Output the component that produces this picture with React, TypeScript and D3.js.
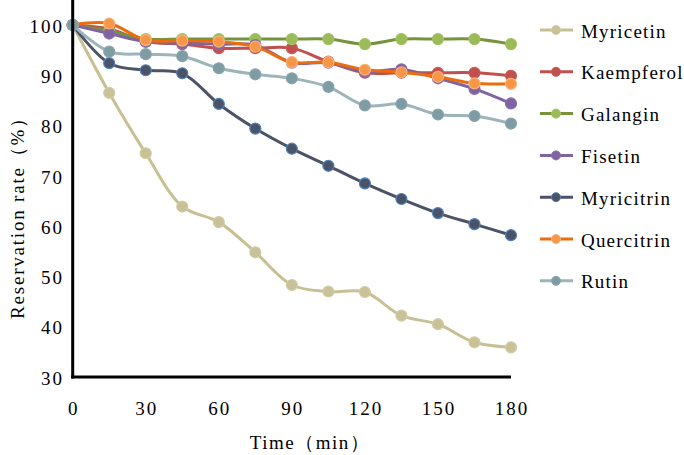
import { useEffect, useRef } from 'react';
import * as d3 from 'd3';

const times = [0, 15, 30, 45, 60, 75, 90, 105, 120, 135, 150, 165, 180];
const xTicks = [0, 30, 60, 90, 120, 150, 180];
const yTicks = [30, 40, 50, 60, 70, 80, 90, 100];

const myricetin = [100, 86.5, 74.5, 63.9, 60.8, 54.8, 48.3, 47.0, 46.9, 42.2, 40.5, 36.9, 35.9];
const kaempferol = [100, 99.2, 96.7, 96.2, 95.4, 95.4, 95.4, 92.7, 90.5, 90.5, 90.5, 90.5, 89.9];
const galangin = [100, 98.8, 97.2, 97.2, 97.2, 97.2, 97.2, 97.2, 96.2, 97.2, 97.2, 97.2, 96.2];
const fisetin = [100, 98.3, 96.7, 96.4, 96.2, 96.0, 92.5, 92.5, 90.7, 91.2, 89.4, 87.3, 84.4];
const myricitrin = [100, 92.4, 91.0, 90.4, 84.3, 79.4, 75.4, 72.0, 68.5, 65.4, 62.6, 60.4, 58.2];
const quercitrin = [100, 100.3, 97.0, 96.9, 96.7, 95.7, 92.6, 92.6, 91.1, 90.6, 89.7, 88.4, 88.3];
const rutin = [100, 94.7, 94.2, 93.8, 91.4, 90.2, 89.4, 87.7, 84.0, 84.3, 82.2, 81.9, 80.4];

const seriesNames = ['Myricetin', 'Kaempferol', 'Galangin', 'Fisetin', 'Myricitrin', 'Quercitrin', 'Rutin'];
const seriesValues = [myricetin, kaempferol, galangin, fisetin, myricitrin, quercitrin, rutin];
const lineColors = ['#c8bf92', '#c0504d', '#77933c', '#8064a2', '#4b5366', '#ec6c0c', '#9db5ba'];
const markerFills = ['#c9c197', '#c0504d', '#9bbb59', '#8064a2', '#4b5366', '#f79646', '#7f9ba3'];
const markerStrokes = ['#d2cba6', '#c95a57', '#a2c160', '#8a6eab', '#4f81bd', '#fbb27a', '#8aa5ac'];

export default function App() {
  const svgRef = useRef<SVGSVGElement>(null);

  useEffect(() => {
    if (!svgRef.current) return;
    const svg = d3.select(svgRef.current);
    svg.selectAll('*').remove();

    const x = d3.scaleLinear().domain([0, 180]).range([72.7, 511]);
    const y = d3.scaleLinear().domain([30, 100]).range([377, 25]);
    const font = '"Liberation Serif", "Times New Roman", serif';

    const line = d3.line<number>()
      .x((d, i) => x(times[i]))
      .y((d) => y(d))
      .curve(d3.curveCatmullRom.alpha(0.5));

    seriesValues.forEach((vals, s) => {
      svg.append('path')
        .datum(vals)
        .attr('fill', 'none')
        .attr('stroke', lineColors[s])
        .attr('stroke-width', 3)
        .attr('d', line);
      svg.append('g')
        .selectAll('circle')
        .data(vals)
        .join('circle')
        .attr('cx', (d, i) => x(times[i]))
        .attr('cy', (d) => y(d))
        .attr('r', 5.5)
        .attr('fill', markerFills[s])
        .attr('stroke', markerStrokes[s])
        .attr('stroke-width', 1.2);
    });

    // axes
    svg.append('line')
      .attr('x1', x(0)).attr('x2', x(0))
      .attr('y1', 0).attr('y2', y(30) + 1.5)
      .attr('stroke', '#000').attr('stroke-width', 3);
    svg.append('line')
      .attr('x1', x(0) - 1.5).attr('x2', x(180))
      .attr('y1', y(30)).attr('y2', y(30))
      .attr('stroke', '#000').attr('stroke-width', 3);

    svg.append('g')
      .selectAll('text')
      .data(yTicks)
      .join('text')
      .attr('x', 64)
      .attr('y', (d) => y(d) + 1)
      .attr('dy', '0.35em')
      .attr('text-anchor', 'end')
      .style('font-family', font)
      .style('font-size', '19px')
      .style('letter-spacing', '2px')
      .text((d) => d);

    svg.append('g')
      .selectAll('text')
      .data(xTicks)
      .join('text')
      .attr('x', (d) => x(d) + 1)
      .attr('y', 408)
      .attr('dy', '0.35em')
      .attr('text-anchor', 'middle')
      .style('font-family', font)
      .style('font-size', '19px')
      .style('letter-spacing', '2px')
      .text((d) => d);

    svg.append('text')
      .attr('x', 310)
      .attr('y', 442)
      .attr('dy', '0.35em')
      .attr('text-anchor', 'middle')
      .style('font-family', font)
      .style('font-size', '19px')
      .style('letter-spacing', '1.5px')
      .text('Time（min）');

    svg.append('text')
      .attr('transform', 'translate(17,213) rotate(-90)')
      .attr('dy', '0.35em')
      .attr('text-anchor', 'middle')
      .style('font-family', font)
      .style('font-size', '19px')
      .style('letter-spacing', '1.8px')
      .text('Reservation rate（%）');

    // legend
    const legend = svg.append('g');
    seriesNames.forEach((name, s) => {
      const ly = 30 + s * 41.8;
      legend.append('line')
        .attr('x1', 540).attr('x2', 573)
        .attr('y1', ly).attr('y2', ly)
        .attr('stroke', lineColors[s]).attr('stroke-width', 3);
      legend.append('circle')
        .attr('cx', 556).attr('cy', ly).attr('r', 4.5)
        .attr('fill', markerFills[s])
        .attr('stroke', markerStrokes[s]).attr('stroke-width', 1);
      legend.append('text')
        .attr('x', 581).attr('y', ly + 1)
        .attr('dy', '0.35em')
        .style('font-family', font)
        .style('font-size', '19px')
        .style('letter-spacing', '1.2px')
        .text(name);
    });
  }, []);

  return (
    <svg
      ref={svgRef}
      width={684}
      height={455}
      style={{ position: 'absolute', left: 0, top: 0, background: '#fff' }}
    />
  );
}
